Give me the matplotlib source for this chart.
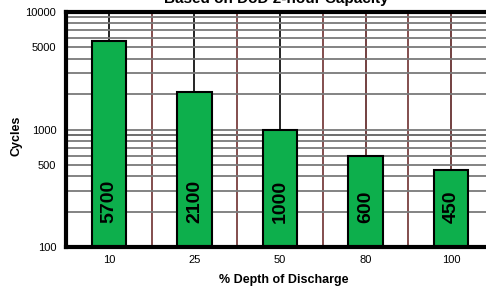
import numpy as np
import matplotlib.pyplot as plt
from matplotlib.ticker import FixedLocator, NullFormatter, LogLocator

# data
dod_labels = ['10', '25', '50', '80', '100']
cycles = [5700, 2100, 1000, 600, 450]
y_ticks = [100, 500, 1000, 5000, 10000]

title = 'Based on DoD 2-hour Capacity'
xlabel = '% Depth of Discharge'
ylabel = 'Cycles'

NARROW = ['Liberation Sans Narrow', 'Liberation Sans', 'DejaVu Sans']
plt.rcParams['font.family'] = ['Liberation Sans', 'DejaVu Sans']

fig = plt.figure(figsize=(4.86, 2.89), dpi=100)
W, H = 486, 289
# axes box in pixels: left 66, right 494 (runs off the figure), top 12, bottom 247
ax = fig.add_axes([66 / W, 1 - 247 / H, (494 - 66) / W, (247 - 12) / H])

x = np.arange(len(cycles))
ax.set_yscale('log')
ax.set_ylim(100, 10000)
ax.set_xlim(-0.5, len(cycles) - 0.5)

# horizontal grid at every minor log step
ax.yaxis.set_minor_locator(LogLocator(base=10, subs=np.arange(2, 10)))
ax.yaxis.set_minor_formatter(NullFormatter())
ax.grid(True, which='minor', axis='y', color='#7a7a7a', lw=1.3, zorder=0)
ax.grid(True, which='major', axis='y', color='#7a7a7a', lw=1.3, zorder=0)
ax.axhline(900, color='black', lw=1.3, zorder=0.5)

# vertical lines: category boundaries and bar centres
for b in np.arange(0.5, len(cycles), 1.0):
    ax.axvline(b, color='#6e3030', lw=1.2, zorder=0.6)
for i in x:
    ax.axvline(i, color='black' if i < 3 else '#5a2020', lw=1.2, zorder=0.6)

ax.bar(x, cycles, width=0.4, color='#0daf4c',
       edgecolor='black', linewidth=1.5, zorder=2)

for i, v in zip(x, cycles):
    ax.text(i, 160, str(v), rotation=90, ha='center', va='bottom',
            fontsize=14, fontweight='bold', family=NARROW, color='black',
            zorder=3)

ax.yaxis.set_major_locator(FixedLocator(y_ticks))
ax.set_yticklabels([str(t) for t in y_ticks])
ax.set_xticks(x)
ax.set_xticklabels(dod_labels)
ax.tick_params(axis='both', which='both', length=0, labelsize=8)
ax.tick_params(axis='y', pad=7)
ax.tick_params(axis='x', pad=6)

for side in ['left', 'top', 'bottom']:
    ax.spines[side].set_linewidth(3)
    ax.spines[side].set_color('black')
ax.spines['right'].set_visible(False)

fig.text(284 / W, 1 - 280 / H, xlabel, ha='center', va='center',
         fontsize=9, fontweight='bold', family=NARROW)
fig.text(16 / W, 1 - 136 / H, ylabel, ha='center', va='center', rotation=90,
         fontsize=9, fontweight='bold', family=NARROW)
fig.text(276 / W, 1 - 3 / H, title, ha='center', va='baseline',
         fontsize=11, fontweight='bold', family=NARROW)

fig.savefig('out.png', dpi=100)
